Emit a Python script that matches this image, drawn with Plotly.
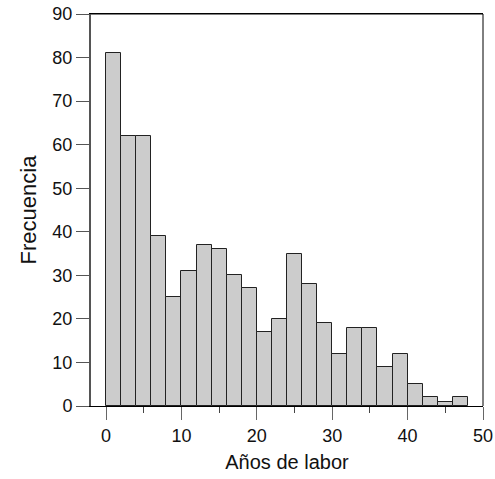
import plotly.graph_objects as go

bin_starts = [0, 2, 4, 6, 8, 10, 12, 14, 16, 18, 20, 22, 24, 26, 28, 30, 32, 34, 36, 38, 40, 42, 44, 46]
counts = [81, 62, 62, 39, 25, 31, 37, 36, 30, 27, 17, 20, 35, 28, 19, 12, 18, 18, 9, 12, 5, 2, 1, 2]
bin_width = 2
x_ticks = [0, 10, 20, 30, 40, 50]
y_ticks = [0, 10, 20, 30, 40, 50, 60, 70, 80, 90]

centers = [s + bin_width / 2 for s in bin_starts]

fig = go.Figure()
fig.add_trace(go.Bar(
    x=centers, y=counts, width=[bin_width] * len(centers),
    marker=dict(color="#cccccc", line=dict(color="#222222", width=1)),
))

font = "Arial, Liberation Sans, sans-serif"
fig.update_layout(
    width=495, height=479,
    margin=dict(l=91, r=12, t=14, b=73),
    paper_bgcolor="white", plot_bgcolor="white",
    showlegend=False,
    bargap=0,
    font=dict(family=font, size=17, color="#111111"),
    xaxis=dict(
        range=[-2, 50], tickvals=x_ticks, ticks="outside", ticklen=13, tickwidth=1,
        tickcolor="#666666", showgrid=False, zeroline=False, automargin=False,
        showline=True, linecolor="black", linewidth=1, mirror=True,
        minor=dict(tickvals=[5, 15, 25, 35, 45], ticks="outside", ticklen=6, tickcolor="#444444", showgrid=False),
        title=dict(text="Años de labor", font=dict(size=20), standoff=10),
        tickfont=dict(size=18),
    ),
    yaxis=dict(
        range=[0, 90], tickvals=y_ticks, ticks="outside", ticklen=13, tickwidth=1,
        tickcolor="#555555", showgrid=False, zeroline=False, automargin=False,
        showline=True, linecolor="#555555", linewidth=2, mirror=False,
        title=dict(text="Frecuencia", font=dict(size=22), standoff=10),
        tickfont=dict(size=18),
    ),
    shapes=[
        dict(type="line", xref="paper", yref="paper", x0=0, x1=1, y0=1, y1=1, line=dict(color="black", width=1)),
        dict(type="line", xref="paper", yref="paper", x0=1, x1=1, y0=0, y1=1, line=dict(color="black", width=1)),
    ],
)

fig.write_html("out.html")
